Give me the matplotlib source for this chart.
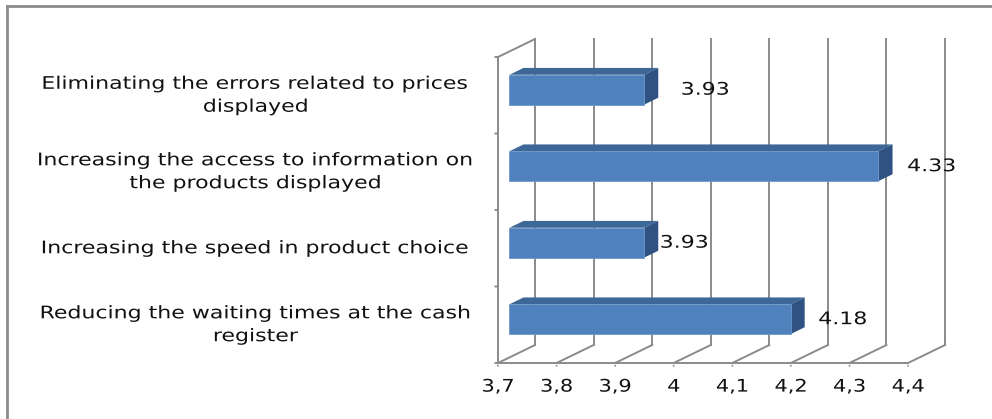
import matplotlib
matplotlib.use("Agg")
import matplotlib.pyplot as plt
from matplotlib.lines import Line2D
from matplotlib.patheffects import AbstractPathEffect
from matplotlib.transforms import Affine2D

# data (bottom to top, as drawn)
categories = [
    "Reducing the waiting times at the cash\nregister",
    "Increasing the speed in product choice",
    "Increasing the access to information on\nthe products displayed",
    "Eliminating the errors related to prices\ndisplayed",
]
values = [4.18, 3.93, 4.33, 3.93]
value_labels = ["4.18", "3.93", "4.33", "3.93"]
xticks = [3.7, 3.8, 3.9, 4.0, 4.1, 4.2, 4.3, 4.4]
xtick_labels = ["3,7", "3,8", "3,9", "4", "4,1", "4,2", "4,3", "4,4"]

# layout of the fake 3d box
X0, X1 = 3.7, 4.4
DX, DY = 0.0632, 0.235        # depth offset of the back wall
F, B = 0.31, 0.69             # bar front / back depth fraction
BAR_H = 0.39
label_dx = [52, 40, 53, 61]   # px offset of value labels
grid_col = "#8a8a8a"
front_col = "#4f81bd"
top_col = "#3d6796"
side_col = "#2f5283"
FS = 12.5


class Stretch(AbstractPathEffect):
    # widen text horizontally around the centre of each line
    def __init__(self, sx):
        super().__init__()
        self.sx = sx

    def draw_path(self, renderer, gc, tpath, affine, rgbFace=None):
        ext = tpath.get_extents()
        cx = (ext.x0 + ext.x1) / 2
        t = Affine2D().translate(-cx, 0).scale(self.sx, 1).translate(cx, 0)
        renderer.draw_path(gc, tpath, t + affine, rgbFace)


wide = [Stretch(1.27)]
tick_wide = [Stretch(1.2)]

fig = plt.figure(figsize=(9.92, 4.19), dpi=100)
ax = fig.add_axes([498 / 992, 56 / 419, 410 / 992, 306 / 419])
ax.set_xlim(X0, X1)
ax.set_ylim(0, len(categories))
ax.axis("off")

lw = 1.4
n = len(categories)
# back wall gridlines + floor diagonals + bottom ticks
for v, lab in zip(xticks, xtick_labels):
    ax.plot([v + DX, v + DX], [DY, n + DY], color=grid_col, lw=lw, clip_on=False)
    ax.plot([v, v + DX], [0, DY], color=grid_col, lw=lw, clip_on=False)
    ax.annotate("", xy=(v, 0), xytext=(0, -4), textcoords="offset points",
                arrowprops=dict(arrowstyle="-", color=grid_col, lw=lw))
    ax.annotate(lab, xy=(v, 0), xytext=(0, -17), textcoords="offset points",
                ha="center", va="center", fontsize=FS, color="#111111",
                path_effects=tick_wide)
ax.plot([X0, X1], [0, 0], color=grid_col, lw=lw, clip_on=False)
# left wall
ax.plot([X0, X0], [0, n], color=grid_col, lw=lw, clip_on=False)
ax.plot([X0, X0 + DX], [n, n + DY], color=grid_col, lw=lw, clip_on=False)
for k in range(n + 1):
    ax.annotate("", xy=(X0, k), xytext=(-4, 0), textcoords="offset points",
                arrowprops=dict(arrowstyle="-", color=grid_col, lw=lw))

label_tr = matplotlib.transforms.blended_transform_factory(fig.transFigure, ax.transData)

# bars
for i, (v, lab) in enumerate(zip(values, value_labels)):
    y0 = i + 0.5 - BAR_H / 2
    y1 = i + 0.5 + BAR_H / 2
    fx, fy = F * DX, F * DY
    bx, by = B * DX, B * DY
    # top face
    ax.fill([X0 + fx, v + fx, v + bx, X0 + bx], [y1 + fy, y1 + fy, y1 + by, y1 + by],
            color=top_col, lw=0, clip_on=False, zorder=3)
    # side face
    ax.fill([v + fx, v + bx, v + bx, v + fx], [y0 + fy, y0 + by, y1 + by, y1 + fy],
            color=side_col, lw=0, clip_on=False, zorder=3)
    # front face
    ax.fill([X0 + fx, v + fx, v + fx, X0 + fx], [y0 + fy, y0 + fy, y1 + fy, y1 + fy],
            facecolor=front_col, edgecolor="#6d97c9", lw=0.6, clip_on=False, zorder=4)
    ax.annotate(lab, xy=(v + fx, i + 0.5 + fy), xytext=(label_dx[i] * 0.72, 0),
                textcoords="offset points", ha="center", va="center",
                fontsize=FS, color="#111111", zorder=5, path_effects=wide)
    ax.text(256 / 992, i + 0.5, categories[i], transform=label_tr,
            ha="center", va="center", ma="center",
            fontsize=FS, color="#111111", linespacing=1.35, path_effects=wide)

# chart frame
fig.add_artist(Line2D([7 / 992, 7 / 992], [0, 1 - 6 / 419], color="#8c8c8c", lw=2))
fig.add_artist(Line2D([7 / 992, 1], [1 - 6 / 419, 1 - 6 / 419], color="#8c8c8c", lw=2))

fig.savefig("out.png", dpi=100)
